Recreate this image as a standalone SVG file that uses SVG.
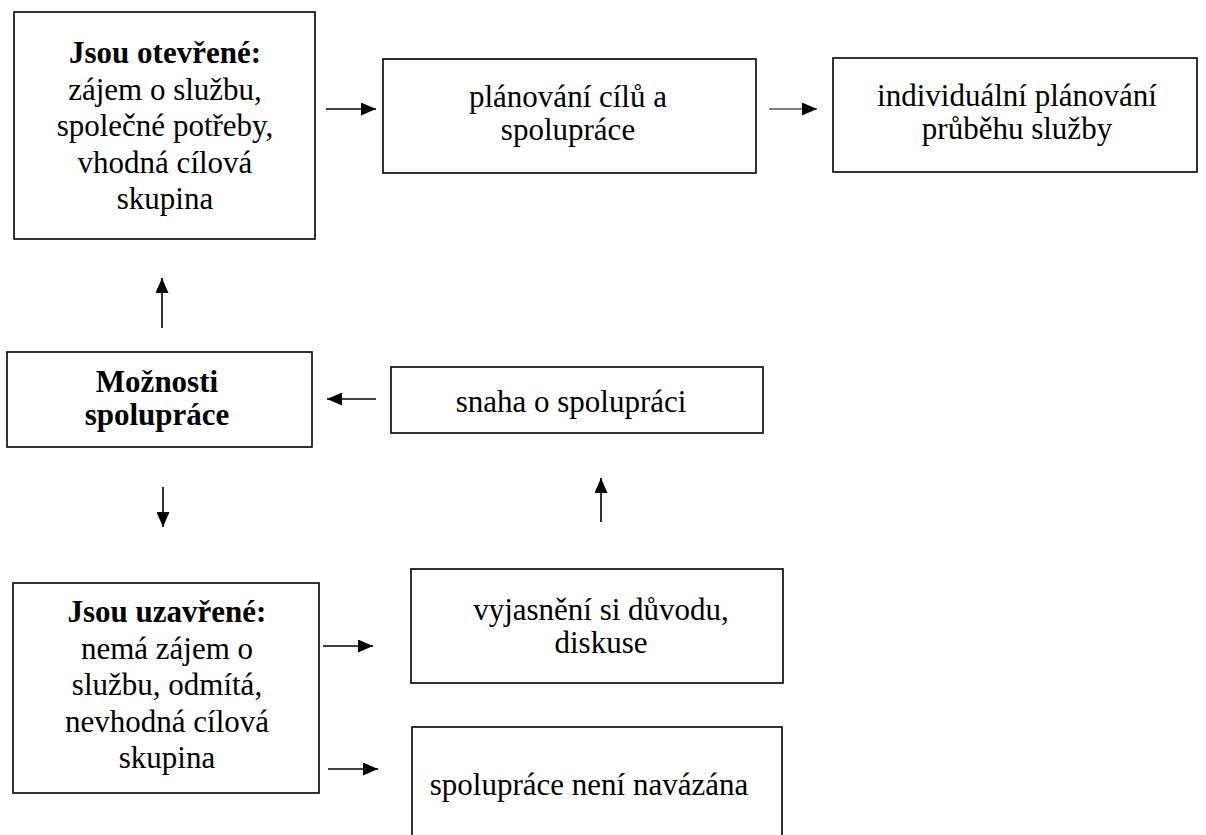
<svg xmlns="http://www.w3.org/2000/svg" width="1206" height="835" viewBox="0 0 1206 835">
<style>
.box{fill:#fff;stroke:#000;stroke-width:1.6}
.t{font-family:"Liberation Serif","Times New Roman","DejaVu Serif",serif;font-size:31px;fill:#000;text-anchor:middle}
.b{font-weight:bold}
.c{stroke:#000;stroke-width:1.6;fill:none}
</style>
<defs>
<marker id="ah" viewBox="0 0 15 13" refX="15" refY="6.5" markerWidth="15" markerHeight="13" markerUnits="userSpaceOnUse" orient="auto">
<path d="M0,0 L15,6.5 L0,13 z" fill="#000"/>
</marker>
</defs>
<rect width="1206" height="835" fill="#fff"/>
<g id="n1">
<rect class="box" x="14" y="12" width="301" height="227"/>
<text class="t"><tspan class="b" x="165" y="63">Jsou otevřené:</tspan><tspan x="165" y="99.5">zájem o službu,</tspan><tspan x="165" y="136">společné potřeby,</tspan><tspan x="165" y="172.5">vhodná cílová</tspan><tspan x="165" y="209">skupina</tspan></text>
</g>
<g id="n2">
<rect class="box" x="383" y="59" width="373" height="114"/>
<text class="t"><tspan x="568" y="106.5">plánování cílů a</tspan><tspan x="568" y="139.5">spolupráce</tspan></text>
</g>
<g id="n3">
<rect class="box" x="833" y="58" width="364" height="114"/>
<text class="t"><tspan x="1017" y="105.5">individuální plánování</tspan><tspan x="1017" y="138.5">průběhu služby</tspan></text>
</g>
<g id="n4">
<rect class="box" x="7" y="352" width="305" height="95"/>
<text class="t b"><tspan x="157" y="392">Možnosti</tspan><tspan x="157" y="425">spolupráce</tspan></text>
</g>
<g id="n5">
<rect class="box" x="391" y="367" width="372" height="66"/>
<text class="t" x="571" y="412">snaha o spolupráci</text>
</g>
<g id="n6">
<rect class="box" x="13" y="583" width="306" height="210"/>
<text class="t"><tspan class="b" x="167" y="622">Jsou uzavřené:</tspan><tspan x="167" y="658.5">nemá zájem o</tspan><tspan x="167" y="695">službu, odmítá,</tspan><tspan x="167" y="731.5">nevhodná cílová</tspan><tspan x="167" y="768">skupina</tspan></text>
</g>
<g id="n7">
<rect class="box" x="411" y="569" width="372" height="114"/>
<text class="t"><tspan x="601" y="620">vyjasnění si důvodu,</tspan><tspan x="601" y="653">diskuse</tspan></text>
</g>
<g id="n8">
<rect class="box" x="412" y="727" width="370" height="130"/>
<text class="t" x="589" y="795">spolupráce není navázána</text>
</g>
<g id="connectors">
<line class="c" x1="326" y1="109" x2="376" y2="109" marker-end="url(#ah)"/>
<line class="c" x1="769" y1="109" x2="817" y2="109" style="stroke-width:1" marker-end="url(#ah)"/>
<line class="c" x1="162" y1="328" x2="162" y2="278" marker-end="url(#ah)"/>
<line class="c" x1="376" y1="399" x2="327" y2="399" marker-end="url(#ah)"/>
<line class="c" x1="163" y1="487" x2="163" y2="527" marker-end="url(#ah)"/>
<line class="c" x1="601" y1="522" x2="601" y2="478" marker-end="url(#ah)"/>
<line class="c" x1="323" y1="646" x2="373" y2="646" marker-end="url(#ah)"/>
<line class="c" x1="328" y1="769" x2="378" y2="769" marker-end="url(#ah)"/>
</g>
</svg>
